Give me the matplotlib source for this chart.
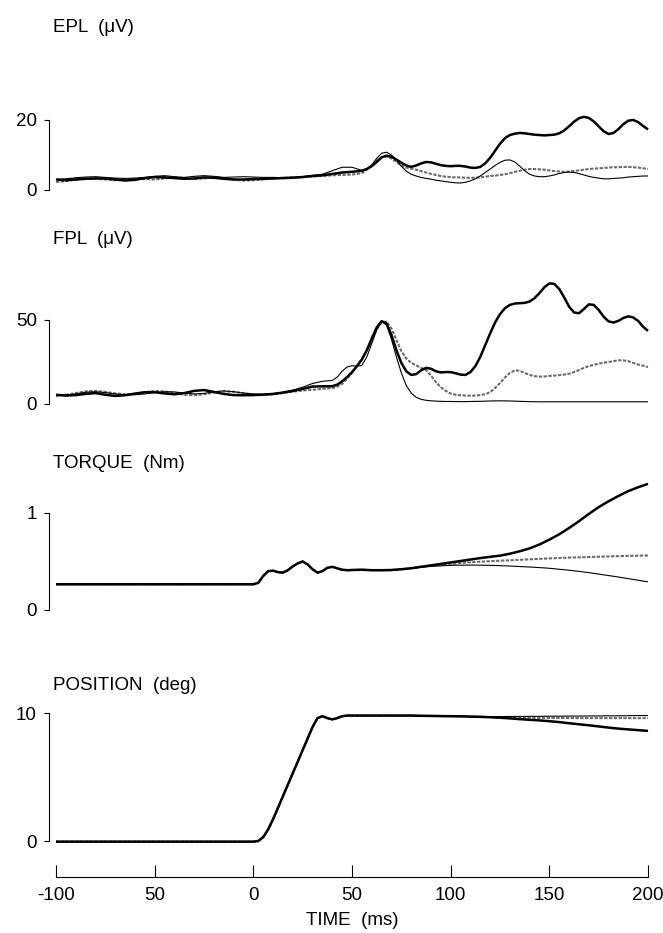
import matplotlib
matplotlib.use("Agg")
import matplotlib.pyplot as plt

plt.rcParams['font.family'] = ['Liberation Sans', 'DejaVu Sans']

# ---------------- data ----------------
# EPL (uV)
t_epl = [-100, -95, -90, -85, -80, -75, -70, -65, -60, -55, -50, -45, -40, -35, -30, -25, -20, -15, -10, -5,
         0, 5, 10, 15, 20, 25, 30, 35, 40, 45, 50, 55,
         57.5, 60, 62.5, 65, 67.5, 70, 72.5, 75, 77.5, 80, 82.5, 85, 87.5, 90, 92.5, 95, 97.5, 100,
         102.5, 105, 107.5, 110, 112.5, 115, 117.5, 120, 122.5, 125, 127.5, 130, 132.5, 135, 137.5, 140,
         142.5, 145, 147.5, 150, 152.5, 155, 157.5, 160, 162.5, 165, 167.5, 170, 172.5, 175, 177.5, 180,
         182.5, 185, 187.5, 190, 192.5, 195, 197.5, 200]
epl_thick = [3.0, 2.8, 3.0, 3.2, 3.3, 3.3, 3.0, 2.7, 2.9, 3.4, 3.7, 3.6, 3.4, 3.2, 3.3, 3.6, 3.5, 3.2, 3.0, 3.0,
             3.1, 3.2, 3.3, 3.4, 3.5, 3.7, 4.0, 4.2, 4.6, 5.0, 5.2, 5.5,
             6.0, 6.8, 8.0, 9.3, 9.8, 9.5, 8.7, 7.8, 7.0, 6.6, 7.0, 7.6, 8.0, 7.9, 7.5, 7.1, 6.9, 6.8,
             6.9, 6.9, 6.7, 6.4, 6.3, 6.6, 7.6, 9.2, 11.2, 13.2, 14.8, 15.7, 16.1, 16.3, 16.2, 16.0,
             15.8, 15.7, 15.6, 15.7, 15.8, 16.2, 17.0, 18.2, 19.5, 20.5, 20.9, 20.6, 19.6, 18.2, 16.8, 16.0,
             16.3, 17.4, 18.8, 19.8, 20.0, 19.4, 18.3, 17.3]
epl_thin = [3.0, 3.2, 3.5, 3.7, 3.8, 3.6, 3.4, 3.3, 3.4, 3.6, 3.9, 4.1, 3.8, 3.6, 3.9, 4.1, 3.9, 3.6, 3.7, 3.8,
            3.7, 3.6, 3.6, 3.5, 3.6, 3.8, 4.2, 4.5, 5.5, 6.5, 6.5, 5.6,
            6.0, 7.2, 9.0, 10.5, 10.8, 10.0, 8.5, 6.8, 5.4, 4.5, 4.0, 3.6, 3.3, 3.1, 2.8, 2.6, 2.4, 2.2,
            2.05, 2.0, 2.2, 2.6, 3.2, 4.0, 5.0, 6.0, 7.0, 7.9, 8.5, 8.6, 8.0, 6.8, 5.5, 4.5,
            4.0, 3.8, 3.8, 4.0, 4.3, 4.7, 5.0, 5.1, 5.0, 4.7, 4.3, 3.9, 3.6, 3.4, 3.2, 3.2,
            3.3, 3.4, 3.5, 3.7, 3.8, 3.9, 4.0, 4.0]
epl_dotted = [2.3, 2.5, 3.0, 3.3, 3.2, 3.0, 2.8, 3.0, 3.2, 3.1, 3.0, 3.3, 3.6, 3.4, 3.1, 3.3, 3.6, 3.4, 3.0, 2.7,
              2.8, 3.0, 3.3, 3.5, 3.6, 3.7, 3.9, 4.0, 4.2, 4.3, 4.4, 4.8,
              5.8, 7.0, 8.3, 9.4, 9.6, 9.0, 8.0, 7.0, 6.4, 6.1, 5.8, 5.4, 5.0, 4.6, 4.3, 4.0, 3.8, 3.7,
              3.6, 3.6, 3.5, 3.5, 3.5, 3.6, 3.8, 4.0, 4.1, 4.3, 4.5, 4.8, 5.2, 5.5, 5.8, 6.0,
              6.0, 5.9, 5.8, 5.6, 5.4, 5.3, 5.2, 5.3, 5.4, 5.6, 5.8, 6.0, 6.1, 6.2, 6.3, 6.4,
              6.5, 6.5, 6.6, 6.6, 6.5, 6.4, 6.2, 6.0]

# FPL (uV)
t_fpl = [-100, -95, -90, -85, -80, -75, -70, -65, -60, -55, -50, -45, -40, -35, -30, -25, -20, -15, -10, -5,
         0, 5, 10, 15, 20, 25, 30, 35, 40,
         42.5, 45, 47.5, 50, 52.5, 55, 57.5, 60, 62.5, 65, 67.5, 70, 72.5, 75, 77.5, 80, 82.5, 85, 87.5, 90,
         92.5, 95, 97.5, 100,
         102.5, 105, 107.5, 110, 112.5, 115, 117.5, 120, 122.5, 125, 127.5, 130, 132.5, 135, 137.5, 140,
         142.5, 145, 147.5, 150, 152.5, 155, 157.5, 160, 162.5, 165, 167.5, 170, 172.5, 175, 177.5, 180,
         182.5, 185, 187.5, 190, 192.5, 195, 197.5, 200]
fpl_thick = [5.5, 5.0, 5.3, 6.0, 6.5, 5.5, 4.8, 5.2, 6.2, 7.0, 7.0, 6.3, 5.8, 6.5, 7.8, 8.3, 7.2, 6.0, 5.3, 5.2,
             5.3, 5.6, 6.0, 6.8, 7.8, 9.0, 10.4, 10.5, 10.6,
             11.5, 13.5, 16.0, 19.0, 22.5, 26.5, 32.0, 39.0, 45.5, 49.3, 48.0, 41.0, 32.0, 24.5, 19.5, 17.3, 17.8,
             20.0, 21.5, 21.0, 19.5, 18.8, 19.0, 19.0,
             18.3, 17.5, 17.3, 19.0, 22.5, 28.0, 35.0, 42.0, 48.5, 53.5, 57.0, 59.0, 59.8, 60.0, 60.2, 61.0,
             63.0, 66.0, 69.5, 71.8, 71.5, 68.5, 63.5, 58.0, 54.5, 54.0, 56.5, 59.3, 59.0, 56.0, 52.0, 49.2,
             48.5, 49.5, 51.2, 52.2, 51.5, 49.5, 46.0, 43.5]
fpl_thin = [5.0, 5.3, 6.0, 7.0, 7.3, 6.8, 6.0, 5.5, 5.5, 6.0, 6.8, 7.3, 7.2, 6.5, 6.0, 6.3, 7.3, 7.8, 7.3, 6.5,
            6.0, 5.8, 6.2, 7.0, 8.2, 10.0, 12.2, 13.5, 14.0,
            16.0, 19.5, 22.0, 22.8, 22.5, 23.0, 28.0, 36.0, 44.0, 49.3, 47.0, 38.5, 28.0, 18.5, 11.0, 6.5, 4.0,
            2.8, 2.2, 1.9, 1.7, 1.6, 1.5, 1.5,
            1.45, 1.4, 1.4, 1.5, 1.55, 1.6, 1.7, 1.8, 1.85, 1.9, 1.85, 1.8, 1.7, 1.6, 1.5, 1.4,
            1.35, 1.3, 1.3, 1.3, 1.3, 1.3, 1.3, 1.3, 1.3, 1.3, 1.3, 1.3, 1.3, 1.3, 1.3, 1.3,
            1.3, 1.3, 1.3, 1.3, 1.3, 1.3, 1.3, 1.3]
fpl_dotted = [4.8, 5.5, 6.5, 7.5, 7.8, 7.2, 6.3, 5.8, 6.0, 7.0, 7.8, 7.5, 6.5, 5.5, 5.2, 5.8, 6.8, 7.5, 7.3, 6.5,
              5.5, 5.3, 5.8, 6.5, 7.3, 8.0, 8.5, 9.0, 9.5,
              10.3, 12.0, 15.0, 18.5, 22.5, 27.0, 32.0, 38.0, 44.5, 48.5, 49.0, 45.0, 38.0, 31.5, 27.0, 24.5, 23.0,
              21.5, 20.3, 17.0, 13.0, 10.0, 7.8, 6.2,
              5.5, 5.2, 5.0, 5.0, 5.0, 5.3, 5.8, 7.0, 9.5, 12.5, 15.8, 18.5, 20.0, 19.8, 18.5, 17.3,
              16.6, 16.3, 16.4, 16.7, 16.9, 17.2, 17.5, 18.0, 19.0, 20.2, 21.5, 22.5, 23.3, 24.0, 24.6, 25.0,
              25.5, 26.0, 26.0, 25.5, 24.5, 23.5, 22.8, 22.0]

# TORQUE (Nm) and POSITION (deg)
t_mech = [-100, -90, -80, -70, -60, -50, -40, -30, -20, -10, 0,
          2.5, 5, 7.5, 10, 12.5, 15, 17.5, 20, 22.5, 25, 27.5, 30, 32.5, 35, 37.5, 40, 42.5, 45, 47.5, 50,
          55, 60, 65, 70, 75, 80, 85, 90, 95, 100, 105, 110, 115, 120, 125, 130, 135, 140, 145, 150,
          155, 160, 165, 170, 175, 180, 185, 190, 195, 200]
torque_thick = [0.265] * 11 + [
    0.28, 0.35, 0.40, 0.405, 0.39, 0.385, 0.41, 0.45, 0.48, 0.50, 0.47, 0.42, 0.385, 0.40, 0.435, 0.445, 0.43,
    0.415, 0.41, 0.412,
    0.415, 0.41, 0.41, 0.412, 0.42, 0.43, 0.445, 0.46, 0.475, 0.49, 0.505, 0.52, 0.535, 0.548, 0.56, 0.58,
    0.605, 0.635, 0.675, 0.725, 0.78, 0.845, 0.915, 0.99, 1.06, 1.12, 1.175, 1.225, 1.265, 1.30]
torque_dotted = [0.265] * 11 + [
    0.28, 0.35, 0.40, 0.405, 0.39, 0.385, 0.41, 0.45, 0.48, 0.50, 0.47, 0.42, 0.385, 0.40, 0.435, 0.445, 0.43,
    0.415, 0.41, 0.412,
    0.415, 0.41, 0.41, 0.412, 0.42, 0.43, 0.445, 0.455, 0.465, 0.475, 0.485, 0.492, 0.498, 0.503, 0.508, 0.512,
    0.517, 0.522, 0.527, 0.532, 0.536, 0.540, 0.543, 0.546, 0.549, 0.552, 0.555, 0.558, 0.56, 0.562]
torque_thin = [0.265] * 11 + [
    0.28, 0.35, 0.40, 0.405, 0.39, 0.385, 0.41, 0.45, 0.48, 0.50, 0.47, 0.42, 0.385, 0.40, 0.435, 0.445, 0.43,
    0.415, 0.41, 0.412,
    0.415, 0.41, 0.41, 0.412, 0.42, 0.43, 0.44, 0.45, 0.455, 0.46, 0.462, 0.463, 0.462, 0.46, 0.457, 0.453,
    0.448, 0.443, 0.437, 0.43, 0.42, 0.41, 0.398, 0.385, 0.37, 0.355, 0.34, 0.323, 0.307, 0.29]

pos_thick = [-0.05] * 11 + [
    0.0, 0.3, 0.9, 1.7, 2.6, 3.5, 4.4, 5.3, 6.2, 7.1, 8.0, 8.9, 9.6, 9.75, 9.6, 9.5, 9.6, 9.75, 9.8, 9.8,
    9.8, 9.8, 9.8, 9.8, 9.8, 9.8, 9.78, 9.77, 9.76, 9.75, 9.74, 9.72, 9.7, 9.67, 9.63, 9.58, 9.52, 9.47,
    9.42, 9.36, 9.29, 9.2, 9.12, 9.04, 8.95, 8.86, 8.78, 8.72, 8.66, 8.6]
pos_thin = [-0.05] * 11 + [
    0.0, 0.3, 0.9, 1.7, 2.6, 3.5, 4.4, 5.3, 6.2, 7.1, 8.0, 8.9, 9.6, 9.75, 9.6, 9.5, 9.6, 9.75, 9.8, 9.8,
    9.8, 9.8, 9.8, 9.8, 9.8, 9.8, 9.78, 9.77, 9.76, 9.75, 9.74, 9.72, 9.72, 9.72, 9.72, 9.73, 9.73, 9.74,
    9.74, 9.75, 9.75, 9.76, 9.76, 9.77, 9.77, 9.78, 9.78, 9.79, 9.8, 9.8]
pos_dotted = [-0.05] * 11 + [
    0.0, 0.3, 0.9, 1.7, 2.6, 3.5, 4.4, 5.3, 6.2, 7.1, 8.0, 8.9, 9.6, 9.75, 9.6, 9.5, 9.6, 9.75, 9.8, 9.8,
    9.8, 9.8, 9.8, 9.8, 9.8, 9.8, 9.78, 9.77, 9.76, 9.75, 9.74, 9.72, 9.7, 9.68, 9.66, 9.65, 9.64, 9.63,
    9.62, 9.62, 9.61, 9.61, 9.6, 9.6, 9.6, 9.6, 9.6, 9.6, 9.6, 9.6]

panel_titles = ["EPL  (\u03bcV)", "FPL  (\u03bcV)", "TORQUE  (Nm)", "POSITION  (deg)"]
x_ticks = [-100, -50, 0, 50, 100, 150, 200]
x_tick_labels = ["-100", "50", "0", "50", "100", "150", "200"]
x_label = "TIME  (ms)"

# ---------------- layout ----------------
W, H = 663, 933
fig = plt.figure(figsize=(W / 100, H / 100), dpi=100)

def add_ax(y0_px, y_top_px):
    return fig.add_axes([56 / W, 1 - y0_px / H, 592 / W, (y0_px - y_top_px) / H])

panels = [
    (t_epl, [epl_thick, epl_thin, epl_dotted], 190, 113, (0, 22), [0, 20], ["0", "20"], 28),
    (t_fpl, [fpl_thick, fpl_thin, fpl_dotted], 404, 278, (0, 75), [0, 50], ["0", "50"], 240),
    (t_mech, [torque_thick, torque_thin, torque_dotted], 610, 479, (0, 1.35), [0, 1], ["0", "1"], 463),
    (t_mech, [pos_thick, pos_thin, pos_dotted], 841, 706.6, (0, 10.5), [0, 10], ["0", "10"], 685),
]

styles = [
    dict(color="black", lw=1.8, ls="-", zorder=3),
    dict(color="black", lw=0.8, ls="-", zorder=4),
    dict(color="0.42", lw=1.5, ls=(0, (1.6, 0.7)), zorder=2),
]

for i, (tt, series, yb, yt, ylim, yt_vals, yt_labels, title_y) in enumerate(panels):
    ax = add_ax(yb, yt)
    for s, st in zip(series, styles):
        ax.plot(tt, s, clip_on=False, solid_capstyle="butt", solid_joinstyle="round", **st)
    ax.set_xlim(-100, 200)
    ax.set_ylim(*ylim)
    for sp in ["top", "right"]:
        ax.spines[sp].set_visible(False)
    ax.spines["left"].set_position(("outward", 5))
    ax.spines["left"].set_bounds(yt_vals[0], yt_vals[-1])
    ax.spines["left"].set_linewidth(0.8)
    ax.set_yticks(yt_vals)
    ax.set_yticklabels(yt_labels)
    ax.tick_params(axis="y", direction="out", length=3.8, width=0.8, pad=5, labelsize=13.5)
    if i < 3:
        ax.spines["bottom"].set_visible(False)
        ax.set_xticks([])
    else:
        ax.spines["bottom"].set_position(("outward", 26))
        ax.spines["bottom"].set_bounds(-100, 200)
        ax.spines["bottom"].set_linewidth(0.8)
        ax.set_xticks(x_ticks)
        ax.set_xticklabels(x_tick_labels)
        ax.tick_params(axis="x", direction="in", length=8.5, width=0.8, pad=7, labelsize=13.5)
        ax.set_xlabel(x_label, fontsize=13.5, labelpad=6)
    ax.patch.set_alpha(0)
    fig.text(53 / W, 1 - title_y / H, panel_titles[i], ha="left", va="center", fontsize=13.5)

fig.savefig("out.png", dpi=100)
